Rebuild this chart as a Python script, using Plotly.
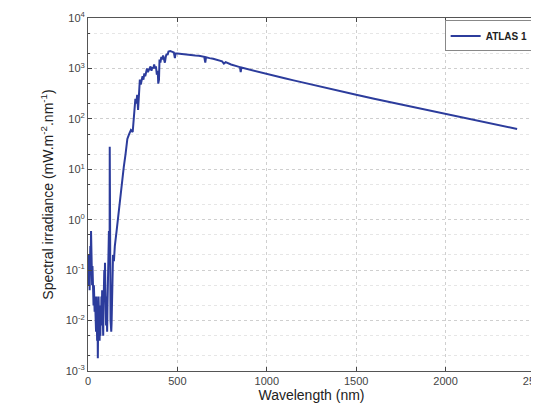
import plotly.graph_objects as go

# ATLAS 1 solar spectral irradiance
wavelength_nm = [
    1, 3, 5, 7, 9, 11, 13, 15, 17, 19,
    21, 23, 25, 27, 29, 31, 33, 35, 37, 39,
    41, 43, 45, 47, 49, 51, 53, 55, 57, 59,
    61, 63, 65, 67, 69, 71, 73, 75, 77, 79,
    81, 83, 85, 87, 89, 91, 93, 95, 97, 99,
    101, 103, 105, 107, 109, 111, 113, 115, 117, 119,
    121, 121.6, 122.2, 124, 126, 128, 130, 132, 134, 136,
    138, 140, 145, 150, 160, 170, 180, 190, 200, 210,
    220, 230, 240, 250, 255, 260, 265, 270, 275, 280,
    285, 290, 295, 300, 305, 310, 315, 320, 325, 330,
    335, 340, 345, 350, 355, 360, 365, 370, 375, 380,
    385, 390, 393, 397, 400, 405, 410, 415, 420, 425,
    430, 435, 440, 445, 450, 460, 470, 480, 486, 490,
    500, 510, 520, 530, 540, 550, 560, 570, 580, 590,
    600, 620, 640, 650, 656, 660, 680, 700, 750, 760,
    770, 800, 850, 854, 858, 900, 950, 1000, 1050, 1100,
    1150, 1200, 1250, 1270, 1300, 1400, 1500, 1600, 1700, 1800,
    1900, 2000, 2100, 2200, 2300, 2400,
]
irradiance = [
    0.05, 0.2, 0.05, 0.15, 0.04, 0.1, 0.3, 0.08, 0.6, 0.1,
    0.2, 0.05, 0.12, 0.03, 0.08, 0.02, 0.05, 0.03, 0.015, 0.03,
    0.008, 0.025, 0.006, 0.03, 0.01, 0.004, 0.02, 0.0018, 0.01, 0.03,
    0.006, 0.02, 0.004, 0.012, 0.005, 0.02, 0.008, 0.03, 0.01, 0.04,
    0.006, 0.015, 0.005, 0.02, 0.06, 0.1, 0.03, 0.14, 0.05, 0.02,
    0.008, 0.03, 0.01, 0.006, 0.02, 0.05, 0.1, 0.3, 0.6, 0.2,
    0.5, 28, 0.4, 0.05, 0.01, 0.008, 0.006, 0.009, 0.02, 0.05,
    0.12, 0.2, 0.15, 0.3, 0.6, 1.3, 3, 6, 11, 20,
    40, 50, 60, 55, 90, 110, 250, 200, 300, 150,
    400, 600, 480, 650, 700, 600, 800, 700, 900, 1000,
    850, 950, 1050, 1100, 900, 1050, 1000, 1200, 1000, 1100,
    750, 900, 500, 600, 1500, 1300, 1700, 1500, 1800, 1500,
    1300, 1700, 1950, 1850, 2150, 2200, 2150, 2080, 1600, 2000,
    1980, 1960, 1900, 1920, 1890, 1870, 1850, 1830, 1820, 1810,
    1800, 1780, 1730, 1700, 1300, 1660, 1600, 1550, 1380, 1250,
    1330, 1200, 1060, 850, 1040, 950, 850, 770, 700, 637,
    580, 527, 480, 452, 436, 362, 300, 250, 210, 178,
    150, 127, 106, 89, 75, 63,
]

series_name = "ATLAS 1"
x_ticks = [0, 500, 1000, 1500, 2000, 2500]
y_ticks = [1e-3, 1e-2, 1e-1, 1e0, 1e1, 1e2, 1e3, 1e4]
y_ticklabels = ["10<sup>-3</sup>", "10<sup>-2</sup>", "10<sup>-1</sup>", "10<sup>0</sup>",
                "10<sup>1</sup>", "10<sup>2</sup>", "10<sup>3</sup>", "10<sup>4</sup>"]

fig = go.Figure()
fig.add_trace(go.Scatter(
    x=wavelength_nm, y=irradiance, mode="lines", name="<b>" + series_name + "</b>",
    line=dict(color="#2c3c9c", width=2),
))

grid = dict(showgrid=True, gridcolor="#cfcfcf", griddash="dot", gridwidth=1)

# page body has an 8px margin, so the figure is sized to fit the 539x411 window
fig.update_layout(
    width=531, height=403,
    margin=dict(l=80, r=4, t=10, b=40),
    paper_bgcolor="white", plot_bgcolor="white",
    font=dict(family="Liberation Sans, Arial, sans-serif", color="#333333", size=11),
    showlegend=True,
    legend=dict(
        x=0.997, y=0.993, xanchor="right", yanchor="top",
        bgcolor="white", bordercolor="#888888", borderwidth=1,
        font=dict(size=10, color="#222222", family="Liberation Sans, Arial, sans-serif"),
        itemwidth=30, tracegroupgap=0,
    ),
    xaxis=dict(
        range=[0, 2500], tickvals=x_ticks, ticks="inside", ticklen=4,
        showline=True, linecolor="#555555", mirror="ticks", zeroline=False,
        automargin=False, ticklabeloverflow="allow",
        title=dict(text="Wavelength (nm)", font=dict(size=14, color="#222222"), standoff=0),
        tickfont=dict(size=11, color="#444444"),
        **grid,
    ),
    yaxis=dict(
        type="log", range=[-3, 4], tickvals=y_ticks, ticktext=y_ticklabels,
        ticks="inside", ticklen=4,
        showline=True, linecolor="#555555", mirror="ticks", zeroline=False,
        automargin=False,
        title=dict(text="Spectral irradiance (mW.m<sup>-2</sup>.nm<sup>-1</sup>)",
                   font=dict(size=14, color="#222222"), standoff=8),
        tickfont=dict(size=11, color="#444444"),
        minor=dict(showgrid=True, gridcolor="#e6e6e6", griddash="dot", ticks="inside", ticklen=2),
        **grid,
    ),
)

fig.write_html("out.html")
